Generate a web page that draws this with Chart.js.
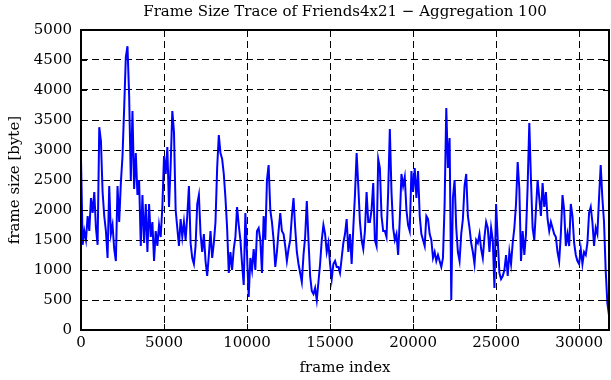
<!DOCTYPE html>
<html>
<head>
<meta charset="utf-8">
<script src="https://cdn.jsdelivr.net/npm/chart.js@4.4.1/dist/chart.umd.min.js"></script>
<style>
  html, body { margin: 0; padding: 0; background: #fff; }
</style>
</head>
<body>
<canvas id="traceChart" width="611" height="380"></canvas>
<script>
// frame size trace, one value per 100 frames
const aggregation = 100;
const frameSize = [
  2840, 1420, 1650, 1500, 1900, 1650, 2200, 1950, 2300, 1700,
  1420, 3380, 3150, 2300, 1900, 1650, 1200, 2400, 1600, 1750,
  1350, 1150, 2400, 1800, 2450, 2900, 3700, 4550, 4730, 3900,
  2500, 3650, 2350, 2950, 2250, 2500, 1400, 2250, 1450, 2100,
  1300, 2100, 1550, 1800, 1150, 1650, 1400, 1750, 1550, 2050,
  2900, 2600, 3050, 2050, 2750, 3650, 3300, 2000, 1700, 1400,
  1850, 1550, 1800, 1500, 1900, 2400, 1450, 1200, 1100, 1400,
  2100, 2250, 1600, 1300, 1600, 1150, 900, 1250, 1650, 1200,
  1450, 1800, 2700, 3250, 2950, 2850, 2600, 2200, 1700, 950,
  1300, 1000, 1350, 1550, 2050, 1750, 1500, 1100, 750, 1950,
  1250, 550, 1200, 1000, 1350, 1000, 1650, 1700, 1500, 950,
  1900, 1500, 2500, 2750, 2000, 1800, 1500, 1050, 1300, 1650,
  1950, 1650, 1600, 1400, 1150, 1350, 1500, 1900, 2200, 1700,
  1300, 1100, 950, 800, 1250, 1550, 2150, 1500, 900, 650,
  600, 700, 500, 800, 1100, 1500, 1750, 1600, 1300, 1450,
  1100, 850, 1100, 1150, 1050, 1050, 950, 1200, 1450, 1600,
  1850, 1300, 1600, 1100, 1700, 2250, 2950, 2400, 1800, 1500,
  1350, 1650, 2300, 1800, 1800, 2000, 2450, 1500, 1400, 2850,
  2700, 1900, 1650, 1650, 1550, 2300, 3350, 2300, 1700, 1500,
  1600, 1250, 1850, 2600, 2400, 2550, 2000, 1750, 1650, 2650,
  2300, 2700, 2200, 2650, 1900, 1600, 1500, 1400, 1900, 1850,
  1600, 1500, 1200, 1300, 1150, 1250, 1150, 1050, 1200, 2100,
  3700, 2700, 3200, 500, 2200, 2500, 1700, 1300, 1150, 1600,
  1850, 2400, 2600, 1900, 1700, 1450, 1300, 1100, 1500, 1450,
  1600, 1350, 1200, 1550, 1800, 1700, 1300, 1700, 1500, 700,
  2100, 1500, 950, 850, 900, 1000, 1250, 900, 1300, 1100,
  1450, 1700, 2100, 2800, 2350, 1150, 1650, 1250, 1600, 2400,
  3450, 2500, 1700, 1500, 2000, 2500, 2200, 1900, 2450, 2050,
  2300, 1850, 1650, 1800, 1700, 1600, 1550, 1300, 1150, 1600,
  2250, 2000, 1400, 1600, 1400, 2100, 1900, 1450, 1250, 1150,
  1100, 1350, 1100, 1300, 1250, 1450, 1950, 2050, 1800, 1400,
  1700, 1600, 2200, 2750, 2200, 1800, 1000, 450, 250
];
const xTicks = [0, 5000, 10000, 15000, 20000, 25000, 30000];
const yTicks = [0, 500, 1000, 1500, 2000, 2500, 3000, 3500, 4000, 4500, 5000];
const xMax = 31800;

const serif = { family: "'DejaVu Serif', serif", size: 15, weight: 'normal' };

// gnuplot style box with inward tick marks on all four sides
const gnuplotFrame = {
  id: 'gnuplotFrame',
  afterDatasetsDraw(chart) {
    const { ctx, chartArea: a, scales: { x, y } } = chart;
    const len = 6;
    ctx.save();
    ctx.strokeStyle = '#000';
    ctx.lineWidth = 1;
    ctx.beginPath();
    x.ticks.forEach(t => {
      const px = Math.round(x.getPixelForValue(t.value)) + 0.5;
      ctx.moveTo(px, a.bottom); ctx.lineTo(px, a.bottom - len);
      ctx.moveTo(px, a.top); ctx.lineTo(px, a.top + len);
    });
    y.ticks.forEach(t => {
      const py = Math.round(y.getPixelForValue(t.value)) + 0.5;
      ctx.moveTo(a.left, py); ctx.lineTo(a.left + len, py);
      ctx.moveTo(a.right, py); ctx.lineTo(a.right - len, py);
    });
    ctx.stroke();
    ctx.lineWidth = 2;
    ctx.strokeRect(a.left, a.top, a.right - a.left, a.bottom - a.top);
    ctx.restore();
  }
};

new Chart('traceChart', {
  type: 'line',
  data: {
    datasets: [{
      data: frameSize.map((v, i) => ({ x: i * aggregation, y: v })),
      borderColor: 'rgb(0,0,255)',
      borderWidth: 2,
      pointRadius: 0,
      fill: false,
      tension: 0
    }]
  },
  options: {
    responsive: false,
    animation: false,
    devicePixelRatio: 1,
    layout: { padding: { left: 0, right: 2, top: 0, bottom: 0 } },
    plugins: {
      legend: { display: false },
      tooltip: { enabled: false },
      title: {
        display: true,
        fullSize: false,
        text: 'Frame Size Trace of Friends4x21 \u2212 Aggregation 100',
        color: '#000',
        font: serif,
        padding: { top: 3, bottom: 9 }
      }
    },
    scales: {
      x: {
        type: 'linear',
        min: 0,
        max: xMax,
        afterBuildTicks: s => { s.ticks = xTicks.map(v => ({ value: v })); },
        afterFit: s => { s.height = 50; },
        ticks: { color: '#000', font: serif, padding: 4, maxRotation: 0, autoSkip: false, callback: v => String(v) },
        grid: { color: '#000', lineWidth: 1, drawTicks: false },
        border: { display: false, dash: [7, 4] },
        title: { display: true, text: 'frame index', color: '#000', font: serif, padding: { top: 0, bottom: 3 } }
      },
      y: {
        min: 0,
        max: 5000,
        afterBuildTicks: s => { s.ticks = yTicks.map(v => ({ value: v })); },
        afterFit: s => { s.width = 81; },
        ticks: { color: '#000', font: serif, padding: 9, autoSkip: false, callback: v => String(v) },
        grid: { color: '#000', lineWidth: 1, drawTicks: false },
        border: { display: false, dash: [7, 4] },
        title: { display: true, text: 'frame size [byte]', color: '#000', font: serif, padding: { top: 6, bottom: 0 } }
      }
    }
  },
  plugins: [gnuplotFrame]
});
</script>
</body>
</html>
